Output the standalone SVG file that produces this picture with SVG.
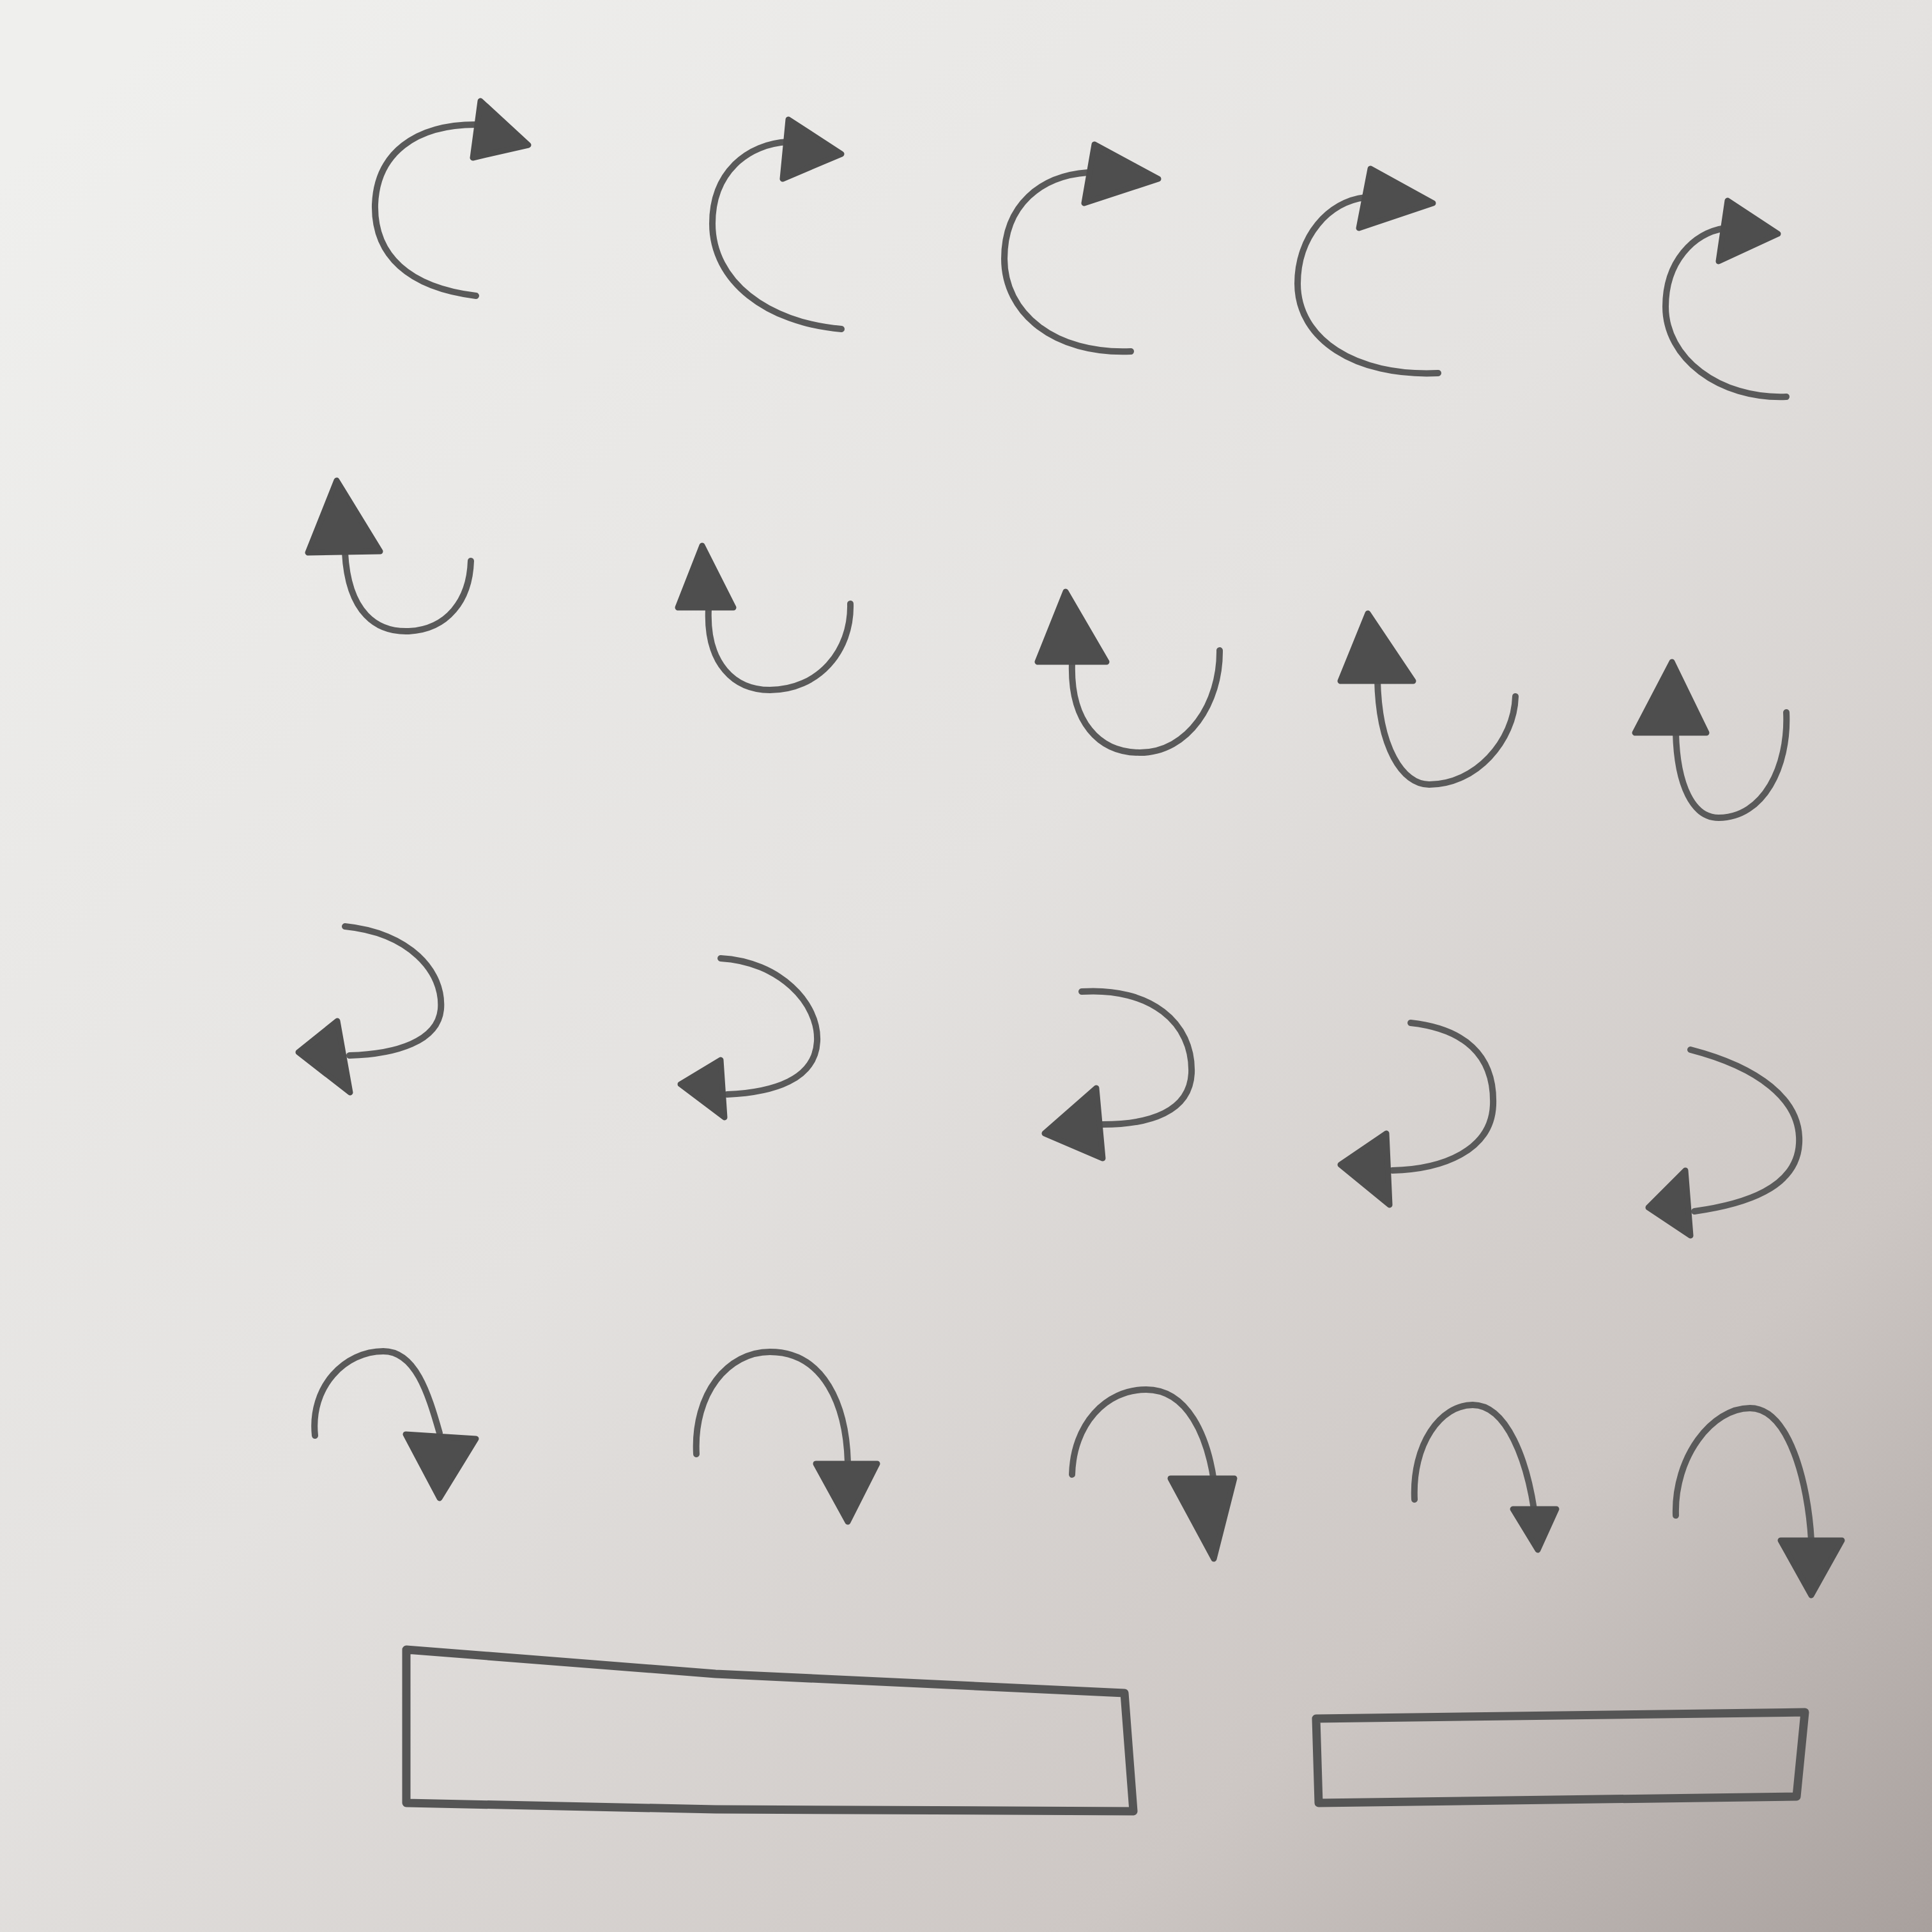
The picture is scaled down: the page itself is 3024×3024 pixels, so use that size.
<svg xmlns="http://www.w3.org/2000/svg" width="3024" height="3024" viewBox="0 0 3024 3024">
<defs>
<linearGradient id="bg" x1="0.1" y1="0" x2="1" y2="1">
<stop offset="0" stop-color="#efefed"/>
<stop offset="0.45" stop-color="#e4e2e0"/>
<stop offset="0.78" stop-color="#cdc7c4"/>
<stop offset="1" stop-color="#a8a09d"/>
</linearGradient>
<style>
.c{fill:none;stroke:#5a5a5a;stroke-width:10;stroke-linecap:round;stroke-linejoin:round}
.h{fill:#4e4e4e;stroke:#4e4e4e;stroke-width:9;stroke-linejoin:round}
.r{fill:none;stroke:#555;stroke-width:13;stroke-linejoin:round}
</style>
</defs>
<rect width="3024" height="3024" fill="url(#bg)"/>
<g id="connectors">
<g id="a1"><path class="c" d="M745,463 C640,450 585,400 587,320 C590,240 650,195 745,195"/><polygon class="h" points="752,158 827,227 740,247"/></g>
<g id="a2"><path class="c" d="M1317,515 C1200,505 1115,440 1115,350 C1115,270 1170,225 1234,222"/><polygon class="h" points="1234,187 1317,241 1225,280"/></g>
<g id="a3"><path class="c" d="M1770,550 C1650,555 1572,490 1572,405 C1572,320 1630,275 1703,270"/><polygon class="h" points="1713,226 1813,280 1697,318"/></g>
<g id="a4"><path class="c" d="M2251,584 C2120,590 2031,530 2031,444 C2031,370 2080,315 2137,309"/><polygon class="h" points="2145,264 2243,318 2127,357"/></g>
<g id="a5"><path class="c" d="M2796,621 C2690,625 2607,560 2607,480 C2607,410 2650,365 2700,357"/><polygon class="h" points="2704,314 2783,366 2690,409"/></g>
<g id="b1"><path class="c" d="M540,865 C545,960 590,990 640,988 C700,985 735,940 737,878"/><polygon class="h" points="527,752 482,865 595,863"/></g>
<g id="b2"><path class="c" d="M1109,953 C1105,1040 1150,1080 1205,1080 C1280,1080 1333,1020 1331,945"/><polygon class="h" points="1099,854 1061,951 1148,951"/></g>
<g id="b3"><path class="c" d="M1678,1038 C1675,1130 1720,1178 1784,1178 C1860,1178 1910,1100 1909,1018"/><polygon class="h" points="1668,926 1624,1036 1732,1036"/></g>
<g id="b4"><path class="c" d="M2156,1063 C2158,1170 2195,1228 2237,1228 C2310,1228 2370,1160 2372,1090"/><polygon class="h" points="2141,960 2098,1066 2212,1066"/></g>
<g id="b5"><path class="c" d="M2623,1147 C2625,1230 2650,1280 2690,1280 C2760,1280 2800,1200 2796,1115"/><polygon class="h" points="2617,1036 2559,1147 2671,1147"/></g>
<g id="c1"><path class="c" d="M540,1450 C640,1460 695,1520 690,1580 C685,1630 620,1650 547,1652"/><polygon class="h" points="467,1647 528,1598 548,1710"/></g>
<g id="c2"><path class="c" d="M1128,1500 C1220,1505 1282,1570 1279,1630 C1276,1690 1210,1710 1138,1713"/><polygon class="h" points="1065,1697 1128,1659 1134,1749"/></g>
<g id="c3"><path class="c" d="M1693,1552 C1800,1545 1868,1600 1865,1680 C1862,1740 1800,1760 1726,1760"/><polygon class="h" points="1635,1774 1716,1703 1726,1813"/></g>
<g id="c4"><path class="c" d="M2208,1601 C2290,1610 2340,1650 2337,1730 C2334,1800 2260,1830 2179,1832"/><polygon class="h" points="2098,1823 2170,1774 2175,1886"/></g>
<g id="c5"><path class="c" d="M2646,1643 C2750,1670 2820,1720 2816,1790 C2812,1860 2730,1885 2652,1896"/><polygon class="h" points="2580,1890 2638,1832 2646,1934"/></g>
<g id="d1"><path class="c" d="M493,2247 C485,2170 540,2115 600,2115 C650,2115 670,2180 688,2243"/><polygon class="h" points="635,2245 745,2252 688,2345"/></g>
<g id="d2"><path class="c" d="M1090,2276 C1085,2180 1140,2116 1205,2116 C1290,2116 1325,2200 1327,2291"/><polygon class="h" points="1277,2291 1373,2291 1327,2382"/></g>
<g id="d3"><path class="c" d="M1678,2308 C1680,2230 1730,2175 1794,2175 C1860,2175 1890,2250 1900,2318"/><polygon class="h" points="1832,2314 1932,2314 1900,2440"/></g>
<g id="d4"><path class="c" d="M2214,2347 C2210,2260 2255,2199 2305,2199 C2360,2199 2390,2290 2401,2362"/><polygon class="h" points="2368,2362 2436,2362 2407,2426"/></g>
<g id="d5"><path class="c" d="M2623,2372 C2620,2280 2680,2204 2739,2204 C2800,2204 2830,2320 2835,2411"/><polygon class="h" points="2787,2411 2883,2411 2835,2497"/></g>
</g>
<g id="box1"><path class="r" d="M636,2582 L1120,2620 L1760,2650 L1774,2835 L1120,2832 L636,2822 Z"/></g>
<g id="box2"><path class="r" d="M2060,2690 L2825,2680 L2812,2812 L2064,2822 Z"/></g>
</svg>
